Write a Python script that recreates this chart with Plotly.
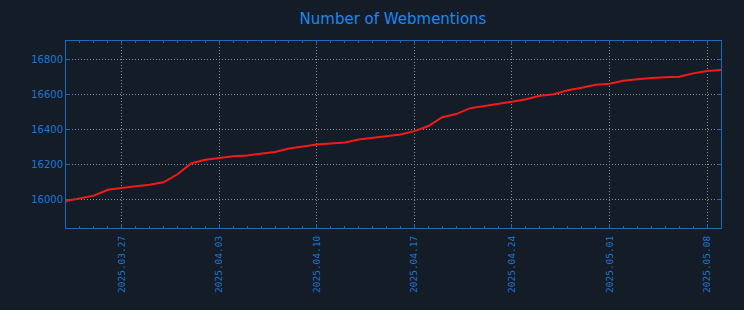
import plotly.graph_objects as go
import pandas as pd

start_date = "2025-03-23"
values = [15989, 16005, 16020, 16054, 16066, 16074, 16083, 16097, 16143, 16206,
          16226, 16237, 16246, 16251, 16263, 16271, 16291, 16303, 16314, 16320,
          16326, 16343, 16351, 16360, 16371, 16391, 16420, 16471, 16489, 16523,
          16534, 16549, 16560, 16574, 16594, 16603, 16626, 16640, 16657, 16663,
          16680, 16689, 16697, 16700, 16703, 16723, 16737, 16743]
dates = pd.date_range(start_date, periods=len(values), freq="D")
tick_dates = ["2025-03-27", "2025-04-03", "2025-04-10", "2025-04-17",
              "2025-04-24", "2025-05-01", "2025-05-08"]
tick_labels = [d.replace("-", ".") for d in tick_dates]
y_ticks = [16000, 16200, 16400, 16600, 16800]
y_labels = [str(v) for v in y_ticks]

BG = "#141c28"
BLUE = "#1f78d1"
SPINE = "#1d68b8"
GRID = "#8a8f96"

fig = go.Figure(go.Scatter(x=dates, y=values, mode="lines",
                           line=dict(color="#f41a1a", width=2)))

fig.update_layout(
    width=744, height=310,
    margin=dict(l=66, r=23, t=41, b=82),
    paper_bgcolor=BG, plot_bgcolor=BG,
    showlegend=False,
    title=dict(text="Number of Webmentions", x=393 / 744, xanchor="center",
               y=1 - 19 / 310, yanchor="middle",
               font=dict(family="DejaVu Sans", size=15, color="#1a88f0")),
)

fig.update_xaxes(
    range=[dates[0], dates[-1]],
    tickmode="array", tickvals=tick_dates, ticktext=tick_labels,
    tickangle=-90, ticklabelstandoff=3,
    tickfont=dict(family="DejaVu Sans Mono", size=9.5, color=BLUE),
    showgrid=True, gridcolor=GRID, griddash="1px,2px", gridwidth=1,
    ticks="inside", ticklen=4, tickcolor=SPINE,
    showline=True, linecolor=SPINE, linewidth=1, mirror="allticks",
    zeroline=False,
    minor=dict(dtick=86400000, tick0="2025-03-23", ticks="inside", ticklen=2,
               tickcolor=SPINE, showgrid=False),
)
fig.update_yaxes(
    range=[15834, 16909],
    tickmode="array", tickvals=y_ticks, ticktext=y_labels,
    tickfont=dict(family="DejaVu Sans", size=10, color=BLUE),
    showgrid=True, gridcolor=GRID, griddash="1px,2px", gridwidth=1,
    ticks="inside", ticklen=4, tickcolor=SPINE,
    showline=True, linecolor=SPINE, linewidth=1, mirror="allticks",
    zeroline=False,
)

fig.write_html("out.html")
